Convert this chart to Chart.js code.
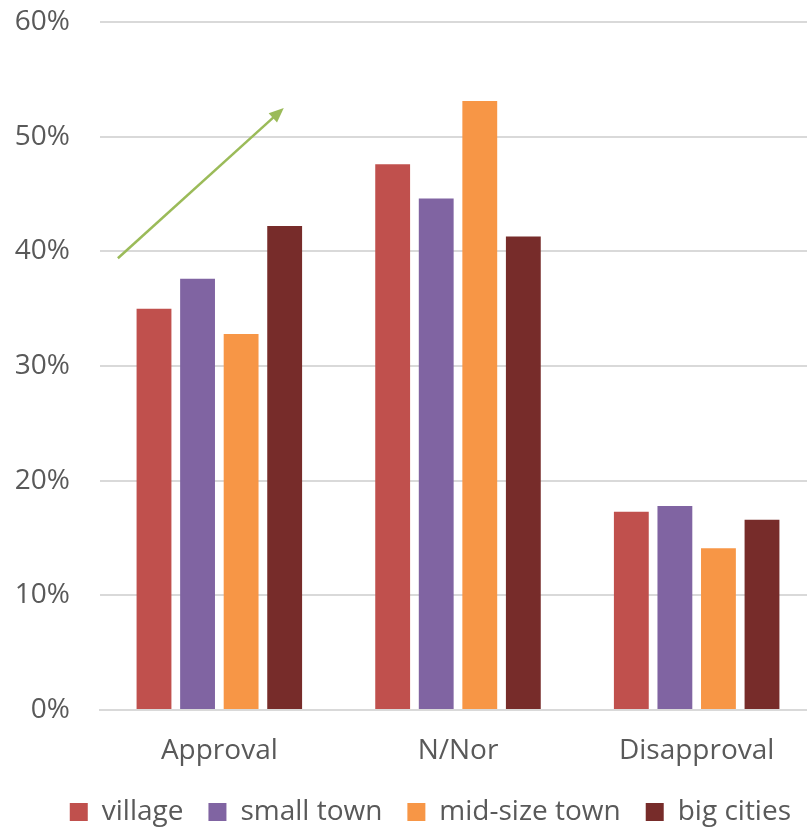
<!DOCTYPE html>
<html>
<head>
<meta charset="utf-8">
<script src="https://cdn.jsdelivr.net/npm/chart.js@4"></script>
<style>
  body { margin: 0; background: #fff; overflow: hidden; }
  #wrap { width: 816px; height: 829px; }
</style>
</head>
<body>
<div id="wrap"><canvas id="myChart"></canvas></div>
<script>
// data
const categories = ['Approval', 'N/Nor', 'Disapproval'];
const seriesNames = ['village', 'small town', 'mid-size town', 'big cities'];
const village = [35.0, 47.6, 17.3];
const smallTown = [37.6, 44.6, 17.8];
const midSizeTown = [32.8, 53.1, 14.1];
const bigCities = [42.2, 41.3, 16.6];
const colors = ['#C0504D', '#8064A2', '#F79646', '#772C2A'];
// trend arrow, in (category index, percent)
const arrowFrom = [-0.425, 39.4];
const arrowTo = [0.27, 52.5];

const font = "'Open Sans', 'Segoe UI', sans-serif";

const arrowPlugin = {
    id: 'arrow',
    afterDatasetsDraw(chart) {
        const c = chart.ctx;
        const x = chart.scales.x, y = chart.scales.y;
        const x1 = x.getPixelForValue(arrowFrom[0]), y1 = y.getPixelForValue(arrowFrom[1]);
        const x2 = x.getPixelForValue(arrowTo[0]), y2 = y.getPixelForValue(arrowTo[1]);
        const ang = Math.atan2(y2 - y1, x2 - x1);
        const head = 16;
        c.save();
        c.strokeStyle = '#9BBB59';
        c.fillStyle = '#9BBB59';
        c.lineWidth = 2.5;
        c.beginPath();
        c.moveTo(x1, y1);
        c.lineTo(x2 - head * 0.8 * Math.cos(ang), y2 - head * 0.8 * Math.sin(ang));
        c.stroke();
        c.beginPath();
        c.moveTo(x2, y2);
        c.lineTo(x2 - head * Math.cos(ang - 0.4), y2 - head * Math.sin(ang - 0.4));
        c.lineTo(x2 - head * Math.cos(ang + 0.4), y2 - head * Math.sin(ang + 0.4));
        c.closePath();
        c.fill();
        c.restore();
    }
};

const ctx = document.getElementById('myChart');

var chart = new Chart(ctx, {
    type: 'bar',
    data: {
        labels: categories,
        datasets: [village, smallTown, midSizeTown, bigCities].map((d, i) => ({
            label: seriesNames[i],
            data: d,
            backgroundColor: colors[i],
            categoryPercentage: 0.73,
            barPercentage: 0.8
        }))
    },
    options: {
        responsive: true,
        maintainAspectRatio: false,
        animation: false,
        layout: { padding: { top: 22, right: 0, left: 0, bottom: -7 } },
        scales: {
            x: {
                clip: false,
                afterFit: s => { s.height = 63; s.paddingBottom = 0; },
                grid: { display: false, drawTicks: false },
                border: { color: '#D9D9D9', width: 2 },
                ticks: { color: '#595959', font: { family: font, size: 28 }, padding: 24 }
            },
            y: {
                min: 0,
                max: 60,
                afterFit: s => { s.width = 100; s.paddingTop = 0; s.paddingBottom = 0; },
                grid: { color: '#D9D9D9', lineWidth: 2, drawTicks: false },
                border: { display: false },
                ticks: {
                    stepSize: 10,
                    color: '#595959',
                    padding: 30,
                    font: { family: font, size: 28 },
                    callback: v => v + '%'
                }
            }
        },
        plugins: {
            legend: {
                position: 'bottom',
                align: 'end',
                labels: {
                    color: '#595959',
                    font: { family: font, size: 28 },
                    boxWidth: 18,
                    boxHeight: 18,
                    padding: 25
                }
            },
            tooltip: { enabled: false }
        }
    },
    plugins: [arrowPlugin]
});
</script>
</body>
</html>
